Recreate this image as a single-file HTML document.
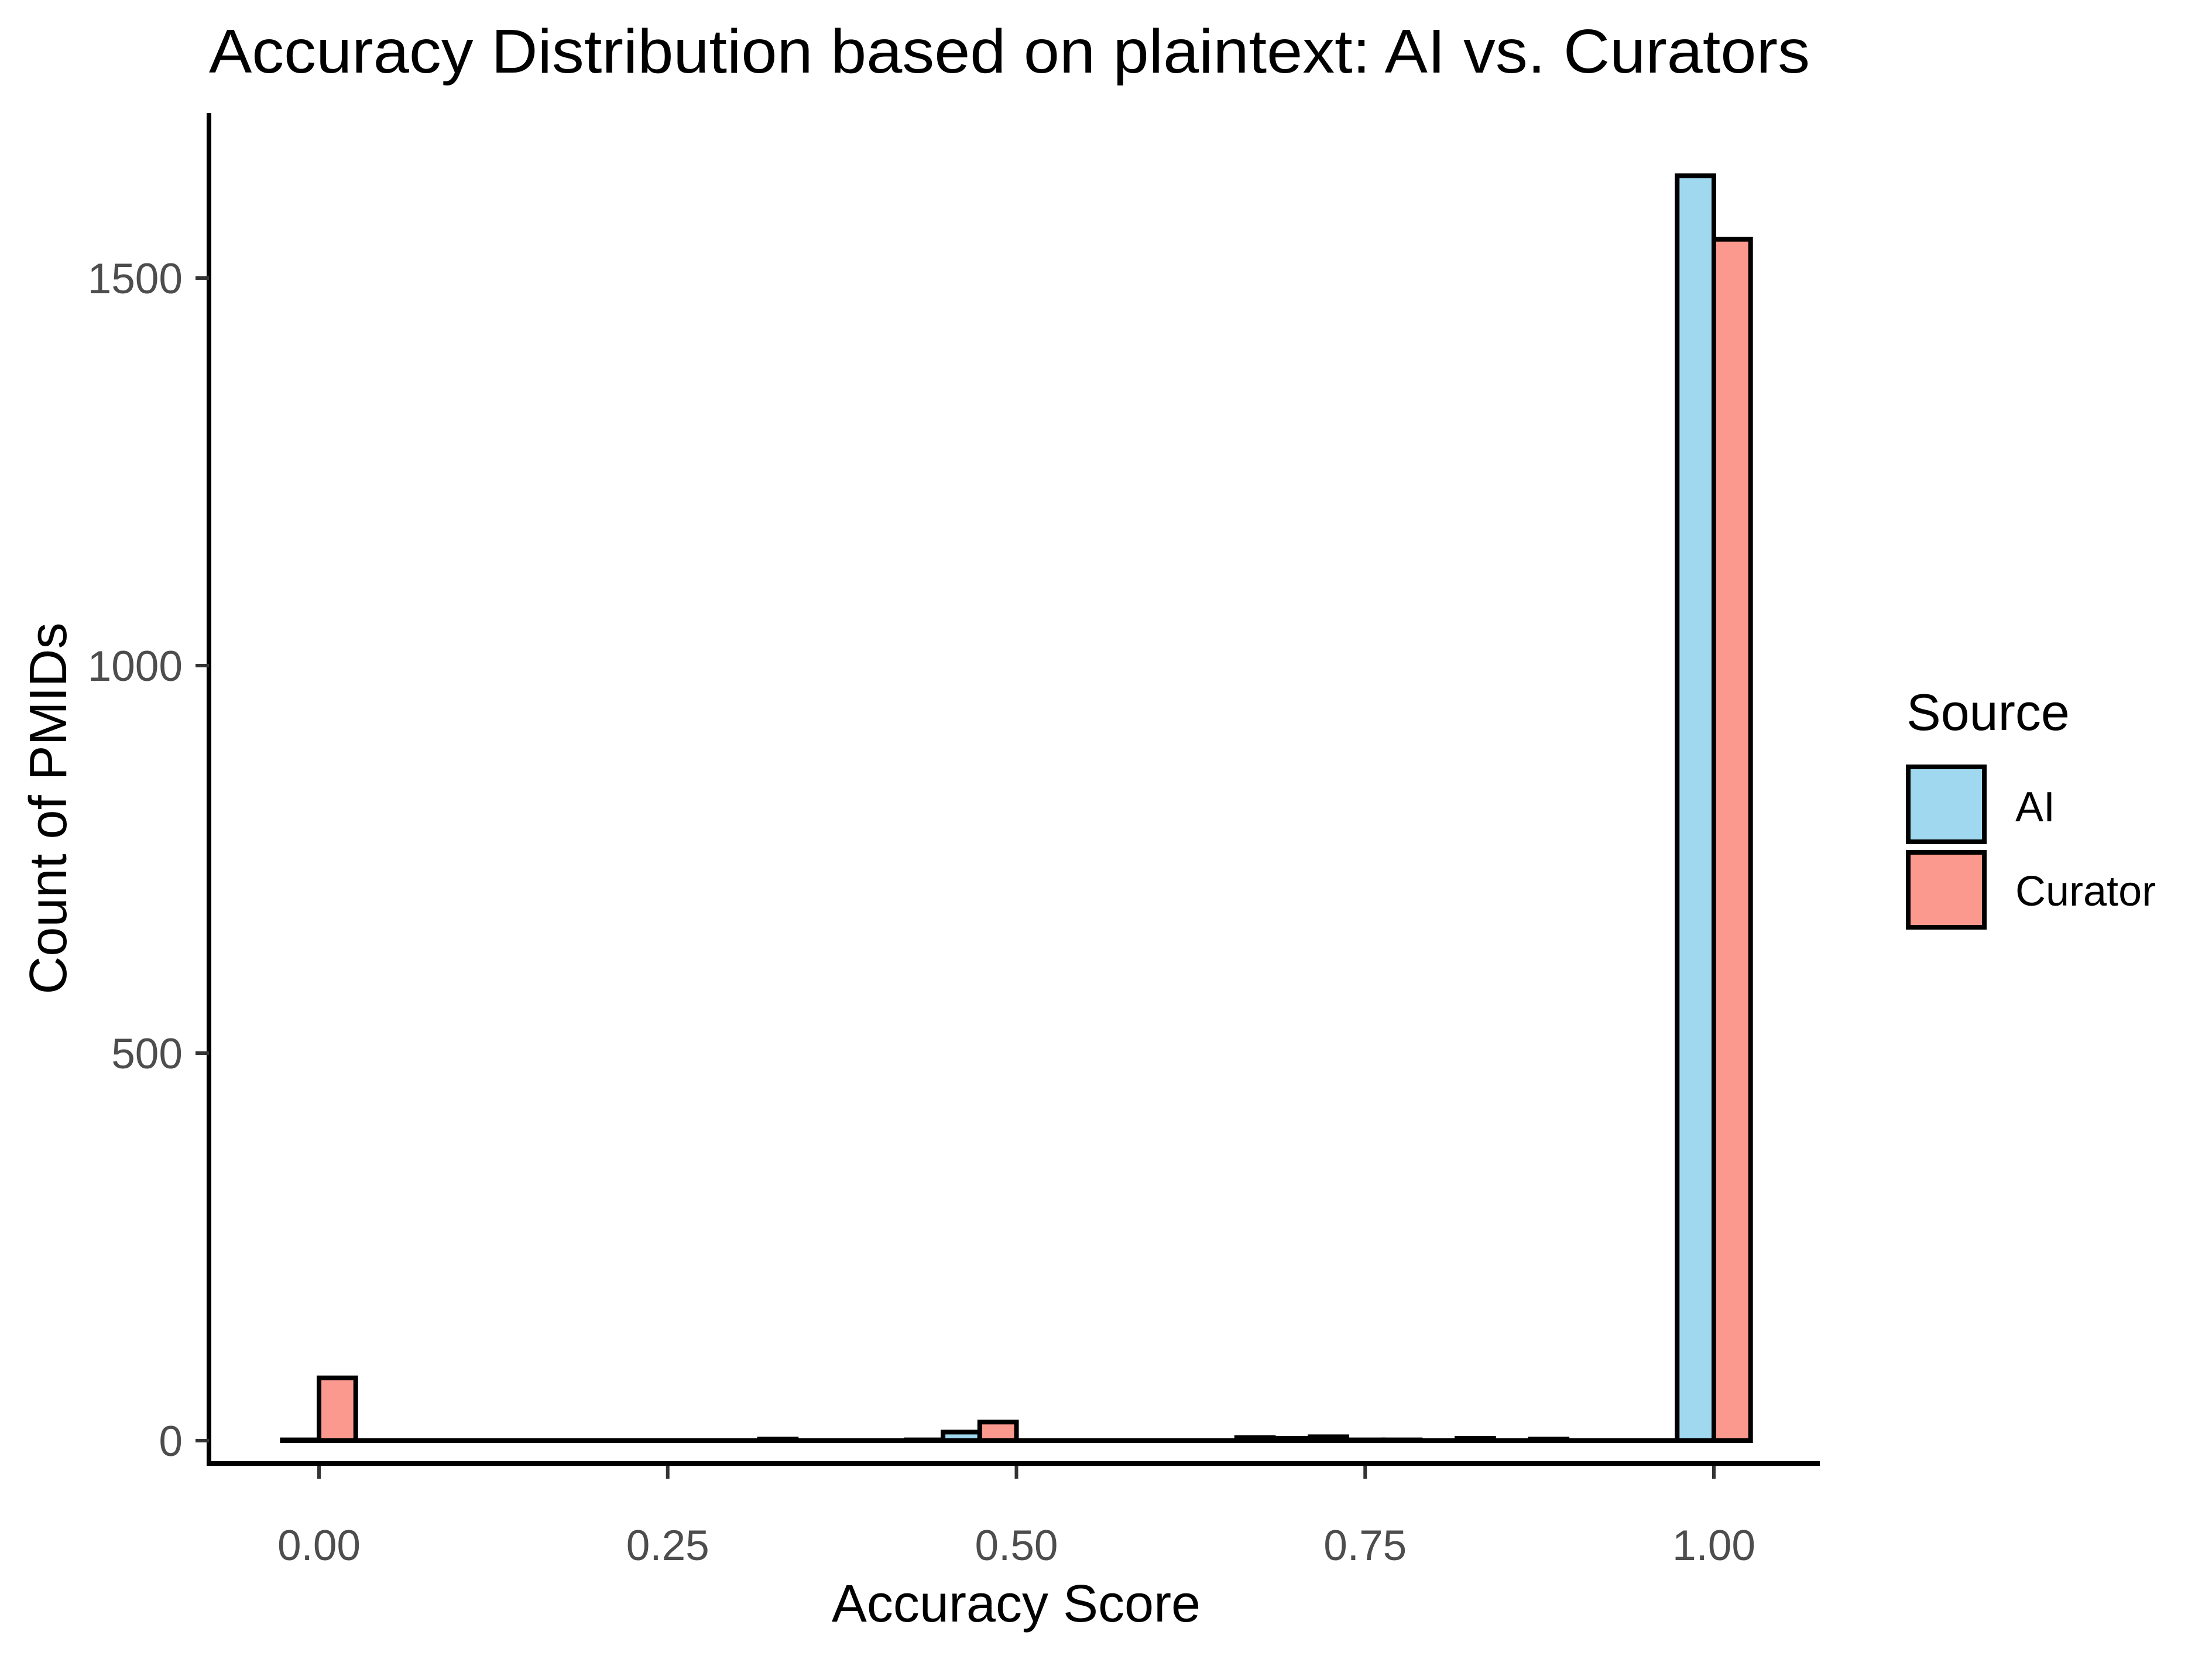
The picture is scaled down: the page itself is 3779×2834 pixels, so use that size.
<!DOCTYPE html>
<html><head><meta charset="utf-8"><style>
html,body{margin:0;padding:0;background:#fff}
svg{display:block;font-family:"Liberation Sans",Arial,sans-serif}
</style></head><body>
<svg id="chart" width="3779" height="2834" viewBox="0 0 3779 2834" xmlns="http://www.w3.org/2000/svg">
<rect width="3779" height="2834" fill="#fff"/>
<text x="357" y="124" font-size="106" fill="#000" textLength="2735" lengthAdjust="spacingAndGlyphs">Accuracy Distribution based on plaintext: AI vs. Curators</text>
<g id="bars"></g>
<g id="axes"></g>
<text x="1736" y="2770" font-size="90" text-anchor="middle" fill="#000">Accuracy Score</text>
<text x="0" y="0" font-size="90" text-anchor="middle" fill="#000" transform="translate(113,1381) rotate(-90)">Count of PMIDs</text>
<g>
<text x="3257" y="1247" font-size="88" fill="#000">Source</text>
<rect x="3260" y="1310" width="130" height="128" fill="#a0d8ef" stroke="#000" stroke-width="8"/>
<rect x="3260" y="1456" width="130" height="128" fill="#fb998e" stroke="#000" stroke-width="8"/>
<text x="3443" y="1403" font-size="72" fill="#000">AI</text>
<text x="3443" y="1547" font-size="72" fill="#000">Curator</text>
</g>
</svg>
<script>
const binCenters = [0,1,2,3,4,5,6,7,8,9,10,11,12,13,14,15,16,17,18,19].map(k => k / 19);
const aiCounts = [1,0,0,0,0,0,0,0,0,11,0,0,0,4,5,1,3,2,0,1632];
const curatorCounts = [81,0,0,0,0,0,2,0,1,24,0,0,0,3,1,0,0,0,0,1550];
const yTicks = [0,500,1000,1500];
const yTickLabels = ["0","500","1000","1500"];
const xTicks = [0,0.25,0.5,0.75,1];
const xTickLabels = ["0.00","0.25","0.50","0.75","1.00"];

const NS = "http://www.w3.org/2000/svg";
const X0 = 545, XU = 2383;
const Y0 = 2461, YC = 1.324;
const AXIS_Y = 2500;
function xs(v){ return X0 + v * XU; }
function ys(v){ return Y0 - v * YC; }
const half = XU / 19 / 2;

const bars = document.getElementById('bars');
function bar(c, v, left, fill, name){
  const x1 = left ? xs(c) - half : xs(c);
  const x2 = x1 + half;
  const top = ys(v), base = ys(0);
  const p = document.createElementNS(NS,'path');
  if (base - top < 1) {
    p.setAttribute('d', 'M' + (x1 - 4) + ' ' + base + ' H' + (x2 + 4));
    p.setAttribute('fill', 'none');
  } else {
    p.setAttribute('d', 'M' + x1 + ' ' + base + ' V' + top + ' H' + x2 + ' V' + base + ' Z');
    p.setAttribute('fill', fill);
  }
  p.setAttribute('stroke', '#000');
  p.setAttribute('stroke-width', '8');
  
  
  bars.appendChild(p);
}
binCenters.forEach((c,i) => {
  bar(c, aiCounts[i], true, '#a0d8ef', 'bar-ai-' + i);
  bar(c, curatorCounts[i], false, '#fb998e', 'bar-curator-' + i);
});

const axes = document.getElementById('axes');
function line(x1,y1,x2,y2,col,w,name){
  const l = document.createElementNS(NS,'line');
  l.setAttribute('x1',x1); l.setAttribute('y1',y1);
  l.setAttribute('x2',x2); l.setAttribute('y2',y2);
  l.setAttribute('stroke',col); l.setAttribute('stroke-width',w);
  
  
  axes.appendChild(l);
}
function txt(x,y,s,anchor,name){
  const t = document.createElementNS(NS,'text');
  t.setAttribute('x',x); t.setAttribute('y',y);
  t.setAttribute('font-size','73'); t.setAttribute('fill','#4d4d4d');
  t.setAttribute('text-anchor',anchor);
  t.textContent = s;
  
  
  axes.appendChild(t);
}
line(357,193,357,AXIS_Y+4,'#000',8,'y-axis-line');
line(353,AXIS_Y,3109,AXIS_Y,'#000',8,'x-axis-line');
yTicks.forEach((v,i) => {
  line(334, ys(v), 357, ys(v), '#333', 6, 'y-tick');
  txt(312, ys(v) + 26, yTickLabels[i], 'end', 'y-tick-label');
});
xTicks.forEach((v,i) => {
  line(xs(v), AXIS_Y+4, xs(v), AXIS_Y+26, '#333', 6, 'x-tick');
  txt(xs(v), 2665, xTickLabels[i], 'middle', 'x-tick-label');
});
</script>
</body></html>
